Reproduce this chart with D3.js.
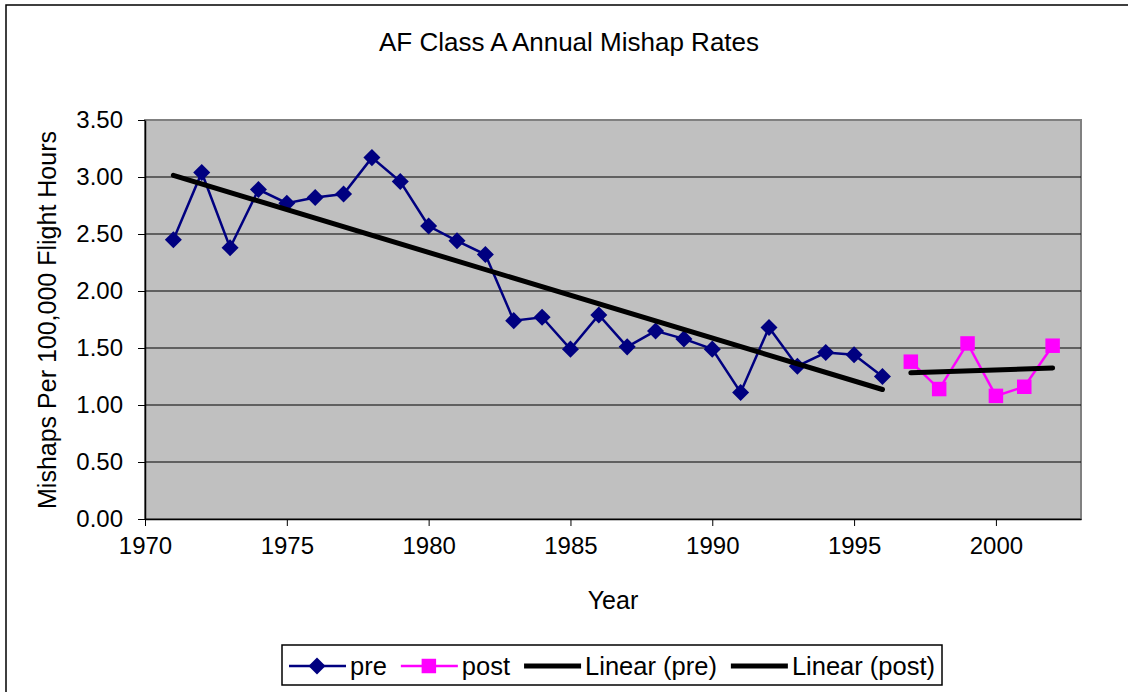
<!DOCTYPE html>
<html><head><meta charset="utf-8">
<script src="https://cdn.jsdelivr.net/npm/d3@7"></script>
<style>
html,body{margin:0;padding:0;background:#fff;}
svg{display:block;font-family:"Liberation Sans",Arial,sans-serif;}
</style></head>
<body>
<svg id="chart" width="1128" height="692"></svg>
<script>
const preYears = [1971,1972,1973,1974,1975,1976,1977,1978,1979,1980,1981,1982,1983,1984,1985,1986,1987,1988,1989,1990,1991,1992,1993,1994,1995,1996];
const preValues = [2.45,3.04,2.38,2.89,2.77,2.82,2.85,3.17,2.96,2.57,2.44,2.32,1.74,1.77,1.49,1.79,1.51,1.65,1.58,1.49,1.11,1.68,1.34,1.46,1.44,1.25];
const postYears = [1997,1998,1999,2000,2001,2002];
const postValues = [1.38,1.14,1.54,1.08,1.16,1.52];
const xTicks = [1970,1975,1980,1985,1990,1995,2000];
const yTicks = [0,0.5,1,1.5,2,2.5,3,3.5];
const legendLabels = ["pre","post","Linear (pre)","Linear (post)"];

function linreg(xs, ys){
  const n = xs.length, mx = d3.mean(xs), my = d3.mean(ys);
  let sxy=0, sxx=0;
  for(let i=0;i<n;i++){ sxy += (xs[i]-mx)*(ys[i]-my); sxx += (xs[i]-mx)**2; }
  const b = sxy/sxx, a = my - b*mx;
  return [[xs[0], a+b*xs[0]], [xs[n-1], a+b*xs[n-1]]];
}

const svg = d3.select("#chart");
const L=145, R=1081, T=120, B=519;
const x = d3.scaleLinear().domain([1970,2003]).range([L,R]);
const y = d3.scaleLinear().domain([0,3.5]).range([B,T]);

// outer border
svg.append("rect").attr("x",6).attr("y",5).attr("width",1140).attr("height",700)
  .attr("fill","#fff").attr("stroke","#000").attr("stroke-width",1.5);

// plot area
svg.append("rect").attr("x",L).attr("y",T).attr("width",R-L).attr("height",B-T)
  .attr("fill","#c0c0c0").attr("stroke","#808080").attr("stroke-width",2);

// gridlines
svg.append("g").selectAll("line").data(yTicks.filter(d=>d>0 && d<3.5)).join("line")
  .attr("x1",L).attr("x2",R).attr("y1",d=>y(d)).attr("y2",d=>y(d))
  .attr("stroke","#000").attr("stroke-width",1);

// axes
const yAxis = d3.axisLeft(y).tickValues(yTicks).tickFormat(d3.format(".2f")).tickSizeInner(7).tickSizeOuter(0).tickPadding(15);
const gy = svg.append("g").attr("transform",`translate(${L},0)`).call(yAxis);
const xAxis = d3.axisBottom(x).tickValues(xTicks).tickFormat(d3.format("d")).tickSizeInner(7).tickSizeOuter(0).tickPadding(11);
const gx = svg.append("g").attr("transform",`translate(0,${B})`).call(xAxis);
[gx,gy].forEach(g=>{
  g.selectAll("text").attr("font-size",24).attr("fill","#000").attr("font-family","Liberation Sans, Arial, sans-serif");
  g.selectAll("line").attr("stroke","#000");
  g.select(".domain").attr("stroke","#000").attr("stroke-width",1.5);
});

// titles
svg.append("text").attr("x",569).attr("y",51).attr("text-anchor","middle")
  .attr("font-size",26).text("AF Class A Annual Mishap Rates");
svg.append("text").attr("x",613).attr("y",609).attr("text-anchor","middle")
  .attr("font-size",25).text("Year");
svg.append("text").attr("transform","translate(56,320) rotate(-90)").attr("text-anchor","middle")
  .attr("font-size",25).text("Mishaps Per 100,000 Flight Hours");

const line = d3.line().x(d=>x(d[0])).y(d=>y(d[1]));
const preData = preYears.map((d,i)=>[d,preValues[i]]);
const postData = postYears.map((d,i)=>[d,postValues[i]]);

// series lines
svg.append("path").datum(preData).attr("d",line).attr("fill","none").attr("stroke","#000080").attr("stroke-width",2.5);
svg.append("path").datum(postData).attr("d",line).attr("fill","none").attr("stroke","#ff00ff").attr("stroke-width",2.5);

const diamond = d3.symbol().type(d3.symbolDiamond2).size(185);
const square = d3.symbol().type(d3.symbolSquare).size(210);

svg.append("g").selectAll("path").data(preData).join("path")
  .attr("transform",d=>`translate(${x(d[0])},${y(d[1])})`).attr("d",diamond).attr("fill","#000080");

// trend lines
svg.append("path").datum(linreg(preYears,preValues)).attr("d",line).attr("fill","none").attr("stroke","#000").attr("stroke-width",5).attr("stroke-linecap","round");

svg.append("g").selectAll("path").data(postData).join("path")
  .attr("transform",d=>`translate(${x(d[0])},${y(d[1])})`).attr("d",square).attr("fill","#ff00ff");

svg.append("path").datum(linreg(postYears,postValues)).attr("d",line).attr("fill","none").attr("stroke","#000").attr("stroke-width",5).attr("stroke-linecap","round");

// legend
const lg = svg.append("g");
lg.append("rect").attr("x",282).attr("y",645).attr("width",660).attr("height",40)
  .attr("fill","#fff").attr("stroke","#000").attr("stroke-width",1.5);
const ly = 666;
let cx = 289;
const styles = [
  {color:"#000080", w:2.5, sym:diamond},
  {color:"#ff00ff", w:2.5, sym:square},
  {color:"#000", w:5, sym:null},
  {color:"#000", w:5, sym:null}
];
legendLabels.forEach((lab,i)=>{
  const s = styles[i];
  lg.append("line").attr("x1",cx).attr("x2",cx+57).attr("y1",ly).attr("y2",ly)
    .attr("stroke",s.color).attr("stroke-width",s.w);
  if(s.sym) lg.append("path").attr("transform",`translate(${cx+28},${ly})`).attr("d",s.sym).attr("fill",s.color);
  const t = lg.append("text").attr("x",cx+61).attr("y",ly+9).attr("font-size",25.5).text(lab);
  cx = cx + 61 + t.node().getComputedTextLength() + 14;
});
</script>
</body></html>
